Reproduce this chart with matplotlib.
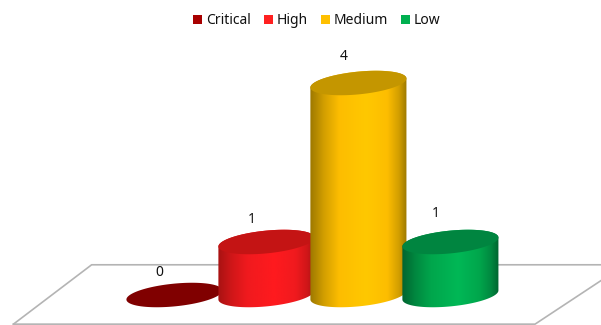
import numpy as np
import matplotlib
matplotlib.use("Agg")
import matplotlib.pyplot as plt
from matplotlib.colors import LinearSegmentedColormap
from matplotlib.patches import Patch, PathPatch, Polygon
from matplotlib.path import Path

categories = ["Critical", "High", "Medium", "Low"]
values = [0, 1, 4, 1]
legend_colors = ["#a80000", "#ff2020", "#ffc000", "#00b050"]
bright_colors = ["#a80000", "#ff1a1f", "#ffc800", "#00b856"]
mid_colors = ["#900000", "#f01a1e", "#fdbd00", "#00a64c"]
edge_colors = ["#700000", "#a81212", "#9c7800", "#006430"]
cap_colors = ["#800000", "#c41414", "#c49600", "#008540"]
label_offsets = [0.42, 0.42, 0.50, 0.54]

HALF_W = 0.522
CAP_B = 0.215
CAP_TILT = 0.085


def ellipse(x, y, t):
    return x + HALF_W * np.cos(t), y + CAP_B * np.sin(t) + CAP_TILT * np.cos(t)


def draw_cylinder(ax, x, value, i):
    # side wall first, then the lid on top of it
    if value > 0:
        bx, by = ellipse(x, 0, np.linspace(np.pi, 2 * np.pi, 60))
        tx, ty = ellipse(x, value, np.linspace(0, np.pi, 60))
        verts = np.column_stack([np.r_[bx, tx], np.r_[by, ty]])
        wall = Polygon(verts, closed=True, fc="none", ec="none")
        ax.add_patch(wall)
        edge = np.array(matplotlib.colors.to_rgb(edge_colors[i]))
        mid = np.array(matplotlib.colors.to_rgb(mid_colors[i]))
        cmap = LinearSegmentedColormap.from_list("wall", [
            (0, edge), (0.14, 0.45 * edge + 0.55 * mid), (0.3, mid),
            (0.58, bright_colors[i]), (0.8, mid),
            (0.92, 0.45 * edge + 0.55 * mid), (1, edge)])
        img = ax.imshow(np.linspace(0, 1, 256).reshape(1, -1), cmap=cmap, aspect="auto",
                        extent=[x - HALF_W, x + HALF_W, -0.4, value + 0.4], zorder=2 + i)
        img.set_clip_path(wall)
    cx, cy = ellipse(x, value, np.linspace(0, 2 * np.pi, 120))
    lid = Path(np.column_stack([cx, cy]))
    ax.add_patch(PathPatch(lid, fc=cap_colors[i], ec="none", zorder=2.5 + i))


fig = plt.figure(figsize=(6.01, 3.25), dpi=100)
ax = fig.add_axes([0, 0, 1, 1])

# floor of the chart
ax.plot([-1.74, -0.89, 5.0], [-0.55, 0.57, 0.57], color="#b4b4b4", lw=1.2, zorder=1)
ax.plot([-1.74, 3.93, 4.75], [-0.55, -0.55, 0.39], color="#b4b4b4", lw=1.2, zorder=1)

for i, v in enumerate(values):
    draw_cylinder(ax, i + 0.01, v, i)
    ax.text(i - 0.15, v + label_offsets[i], str(v), ha="center", va="center",
            fontsize=10, color="#111111", family="Noto Sans", zorder=10)

ax.set_xlim(-1.886, 4.647)
ax.set_ylim(-0.566, 5.566)
ax.axis("off")

handles = [Patch(fc=c, ec="none") for c in legend_colors]
ax.legend(handles, categories, ncols=4, loc="center", bbox_to_anchor=(317 / 601, 1 - 21 / 325),
          frameon=False, prop={"family": "Noto Sans", "size": 10}, handlelength=0.65, handleheight=0.65,
          handletextpad=0.3, columnspacing=0.9, labelcolor="#111111")

fig.savefig("out.png", dpi=100)
